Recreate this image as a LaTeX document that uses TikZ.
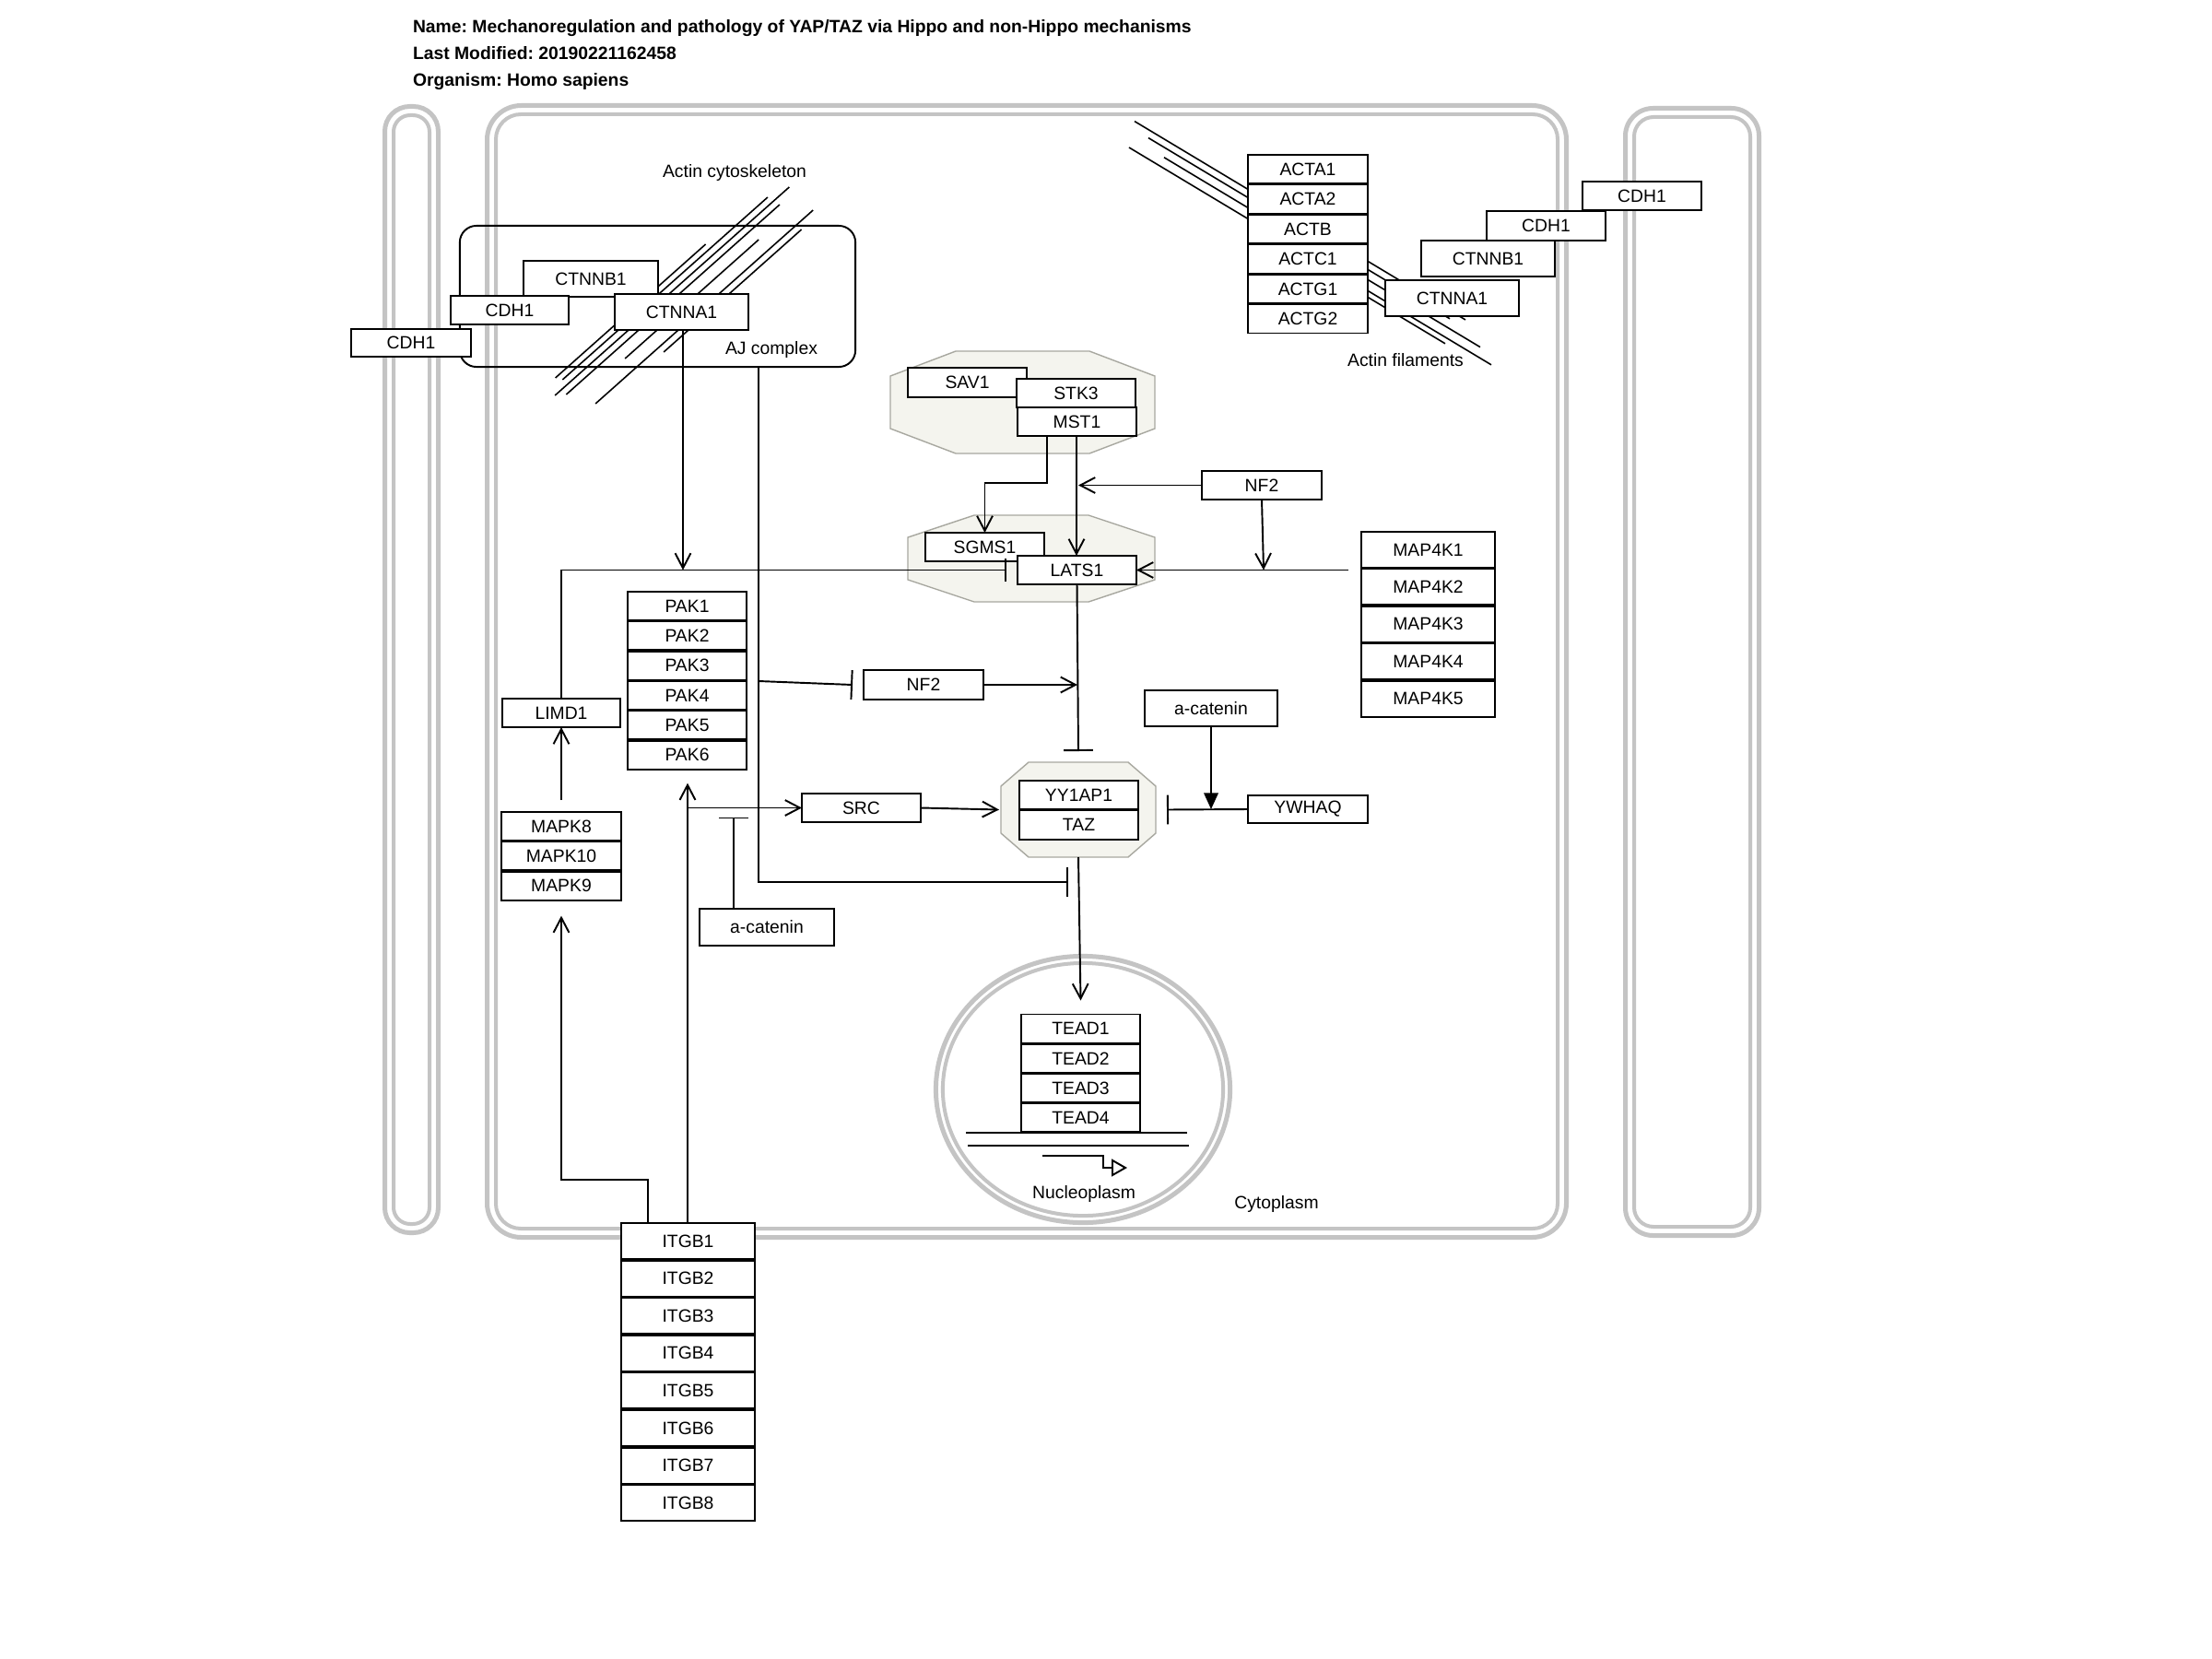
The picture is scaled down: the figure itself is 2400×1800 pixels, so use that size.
\documentclass[tikz,border=0pt]{standalone}
\usepackage{fontspec}
\setmainfont{Liberation Sans}
\usetikzlibrary{arrows.meta,calc}
\frenchspacing
\definecolor{cellgray}{HTML}{C4C4C4}
\definecolor{cplxfill}{HTML}{F4F4EE}
\definecolor{cplxedge}{HTML}{A8A8A0}
\newcommand{\bx}[6]{\node[gbox, minimum width={(#4-(#2))*0.01cm}, minimum height={(#5-(#3))*0.01cm}] (#1) at ({(#2+#4)/2},{(#3+#5)/2}) {#6};}
\newcommand{\rgn}[5]{\node[minimum width={(#4-(#2))*0.01cm}, minimum height={(#5-(#3))*0.01cm}] (#1) at ({(#2+#4)/2},{(#3+#5)/2}) {};}
\newcommand{\octa}[3]{\draw[cplxs] ($(#1.north west)+(#2,0)$) -- ($(#1.north east)+(-#2,0)$) -- ($(#1.north east)+(0,#3)$) -- ($(#1.south east)+(0,-#3)$) -- ($(#1.south east)+(-#2,0)$) -- ($(#1.south west)+(#2,0)$) -- ($(#1.south west)+(0,-#3)$) -- ($(#1.north west)+(0,#3)$) -- cycle;}
\begin{document}
\begin{tikzpicture}[x=0.01cm,y=-0.01cm,
  every node/.style={font=\fontsize{5.5}{6.6}\selectfont, inner sep=0pt, outer sep=0pt},
  gbox/.style={draw=black, fill=white, line width=0.55pt},
  conn/.style={line width=0.55pt},
  arr/.style={conn, -{Straight Barb[length=4.6pt,width=4.8pt]}},
  inh/.style={conn, -{Bar[width=9pt]}},
  inhs/.style={conn, -{Bar[width=7pt]}},
  farr/.style={conn, -{Triangle[length=5pt,width=4.4pt]}},
  cellout/.style={draw=cellgray, line width=0.05cm},
  cellin/.style={draw=cellgray, line width=0.04cm},
  cplxs/.style={draw=cplxedge, fill=cplxfill, line width=0.4pt},
  actin/.style={line width=0.45pt},
  ttl/.style={font=\fontsize{5.5}{6.6}\selectfont\bfseries, anchor=base west}]
\useasboundingbox (0,0) rectangle (2400,1800);
\fill[white] (0,0) rectangle (2400,1800);

% title
\node[ttl] (t1) at (448,36) {Name: Mechanoregulation and pathology of YAP/TAZ via Hippo and non-Hippo mechanisms};
\node[ttl] (t2) at (448,65) {Last Modified: 20190221162458};
\node[ttl] (t3) at (448,94) {Organism: Homo sapiens};

% cells
\draw[cellout, rounded corners=0.27cm] (417.5,115.5) rectangle (475.5,1337.5);
\draw[cellin, rounded corners=0.18cm] (427,125) rectangle (466,1328);
\draw[cellout, rounded corners=0.37cm] (528.5,114.5) rectangle (1699.5,1342.5);
\draw[cellin, rounded corners=0.27cm] (538,124) rectangle (1690,1333);
\draw[cellout, rounded corners=0.3cm] (1763.5,117.5) rectangle (1908.5,1340.5);
\draw[cellin, rounded corners=0.21cm] (1773,127) rectangle (1899,1331);

% nucleus
\draw[cellout] (1175,1182) ellipse [x radius=1.595cm, y radius=1.445cm];
\draw[cellin] (1175,1182) ellipse [x radius=1.52cm, y radius=1.37cm];
\draw[conn] (1048,1229) -- (1288,1229);
\draw[conn] (1050,1243) -- (1290,1243);
\draw[conn] (1131,1254) -- (1197,1254) -- (1197,1267) -- (1207,1267);
\draw[conn, fill=white] (1207,1259) -- (1221,1267) -- (1207,1275) -- cycle;
\node (nucl) at (1176,1295) {Nucleoplasm};
\node (cyto) at (1385,1306) {Cytoplasm};

% actin bundles
\draw[actin] (765.6,265) -- (602.6,410);
\draw[actin] (832.9,214) -- (610.3,412);
\draw[actin] (856.3,203) -- (602.2,429);
\draw[actin] (845.9,222) -- (614.4,428);
\draw[actin] (823.2,260) -- (678.2,389);
\draw[actin] (882.2,228) -- (646.1,438);
\draw[actin] (869.6,249) -- (720.1,382);
\draw[actin] (1231,131.6) -- (1590,347);
\draw[actin] (1246,149.6) -- (1573,345.8);
\draw[actin] (1263,170.8) -- (1606,376.6);
\draw[actin] (1225,160) -- (1618,395.8);
\draw[actin] (1360,248) -- (1568,372.8);
\node (actcyt) at (797,187) {Actin cytoskeleton};
\node (actfil) at (1525,391) {Actin filaments};

% AJ complex
\node[draw, rounded corners=0.18cm, line width=0.55pt, minimum width=4.29cm, minimum height=1.53cm] (ajc) at (713.5,321.5) {};
\node (ajlbl) at (837,379) {AJ complex};

% complexes
\rgn{cplx1}{966}{381}{1253}{492}
\octa{cplx1}{71}{27}
\rgn{cplx2}{985}{559}{1253}{653}
\octa{cplx2}{72}{24}
\rgn{cplx3}{1086}{827}{1254}{930}
\octa{cplx3}{30}{26}

% anchors
\coordinate (ancL) at (741,618.5);
\coordinate (ancM) at (1170,526.5);
\coordinate (ancR) at (1371,618.5);
\coordinate (ancN) at (823,739);
\coordinate (ancT) at (1169,743);
\coordinate (ancS) at (746,876.5);
\coordinate (ancSA) at (796,876.5);
\coordinate (ancY) at (1314,878);
\coordinate (ancE) at (1172,957);

% boxes
\bx{cdh1LL}{381}{357}{511}{387}{CDH1}
\bx{ctnnbL}{568}{283}{714}{322}{CTNNB1}
\bx{cdh1L}{489}{321}{617}{352}{CDH1}
\bx{ctnnaL}{667}{319}{812}{358}{CTNNA1}

\foreach \i/\t in {1/ACTA1,2/ACTA2,3/ACTB,4/ACTC1,5/ACTG1,6/ACTG2}
  {\bx{act\i}{1354}{168+32.5*(\i-1)}{1484}{168+32.5*(\i-1)+31}{\t}}
\bx{ctnnaR}{1503}{304}{1648}{343}{CTNNA1}
\bx{ctnnbR}{1542}{261}{1687}{300}{CTNNB1}
\bx{cdh1R1}{1613}{229}{1742}{261}{CDH1}
\bx{cdh1R2}{1717}{197}{1846}{228}{CDH1}

\bx{sav1}{985}{399}{1114}{431}{SAV1}
\bx{stk3}{1103}{411}{1232}{442}{STK3}
\bx{mst1}{1104}{442}{1233}{473}{MST1}
\bx{nf2a}{1304}{511}{1434}{542}{NF2}
\bx{sgms1}{1004}{578}{1133}{609}{SGMS1}
\bx{lats1}{1104}{603}{1233}{634}{LATS1}

\foreach \i in {1,...,5}
  {\bx{map4k\i}{1477}{577+40.4*(\i-1)}{1622}{577+40.4*(\i-1)+39}{MAP4K\i}}

\bx{limd1}{545}{758}{673}{789}{LIMD1}
\foreach \i in {1,...,6}
  {\bx{pak\i}{681}{642+32.33*(\i-1)}{810}{642+32.33*(\i-1)+31}{PAK\i}}
\bx{nf2b}{937}{727}{1067}{759}{NF2}
\bx{acatA}{1242}{749}{1386}{788}{a-catenin}
\bx{src}{870}{861}{999}{892}{SRC}
\bx{yy1ap1}{1106}{847}{1235}{878}{YY1AP1}
\bx{taz}{1106}{879.5}{1235}{911}{TAZ}
\bx{ywhaq}{1354}{863}{1484}{893}{YWHAQ}
\foreach \i/\t in {1/MAPK8,2/MAPK10,3/MAPK9}
  {\bx{mapk\i}{544}{881+32.3*(\i-1)}{674}{881+32.3*(\i-1)+31}{\t}}
\bx{acatB}{759}{986}{905}{1026}{a-catenin}
\foreach \i in {1,...,4}
  {\bx{tead\i}{1108}{1100.5+32.3*(\i-1)}{1237}{1100.5+32.3*(\i-1)+31}{TEAD\i}}
\foreach \i in {1,...,8}
  {\bx{itgb\i}{674}{1327+40.6*(\i-1)}{819}{1327+40.6*(\i-1)+39}{ITGB\i}}

\coordinate (m4s) at ($(map4k1.south west)+(-14,2.5)$);

% connectors
\draw[arr] ($(ctnnaL.south west)+(74,0)$) -- (ancL);
\draw[inhs] (limd1.north) |- ($(lats1.west)+(-12,0)$);
\draw[arr] ($(mst1.south west)+(32,0)$) -- ++(0,51) -| (sgms1.north);
\draw[arr] ($(mst1.south west)+(64,0)$) -- ($(lats1.north west)+(64,0)$);
\draw[arr] (nf2a.west) -- (ancM);
\draw[arr] ($(nf2a.south west)+(65,0)$) -- (ancR);
\draw[arr] (m4s) -- (lats1.east);
\draw[inh] ($(ajc.south west)+(324,0)$) |- ($(ancE)+(-13,0)$);
\draw[inh] (ancN) -- ($(nf2b.west)+(-12,0)$);
\draw[arr] (nf2b.east) -- (ancT);
\draw[inh] (lats1.south) -- ($(cplx3.north)+(0,-12)$);
\draw[arr] ($(itgb1.north west)+(72,0)$) -- ($(pak6.south west)+(65,15)$);
\draw[arr] (ancS) -- (src.west);
\draw[inh] ($(acatB.north west)+(37,0)$) -- ($(ancSA)+(0,10)$);
\draw[arr] (src.east) -- ($(cplx3.west)+(-2,0)$);
\draw[inh] (ywhaq.west) -- ($(cplx3.east)+(12,0)$);
\draw[farr] (acatA.south) -- (ancY);
\draw[arr] ($(itgb1.north west)+(29,0)$) -- ++(0,-47) -| ($(mapk3.south)+(0,17)$);
\draw[arr] ($(mapk1.north)+(0,-13)$) -- (limd1.south);
\draw[arr] (cplx3.south) -- ($(tead1.north)+(0,-15)$);
\end{tikzpicture}
\end{document}
